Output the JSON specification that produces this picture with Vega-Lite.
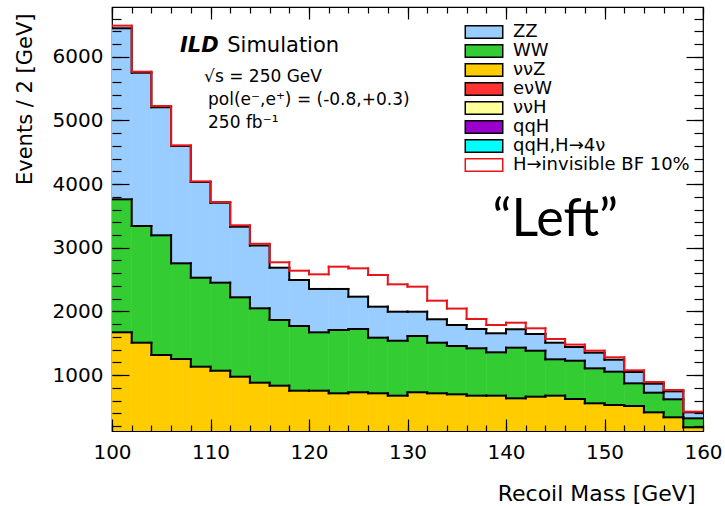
{
  "$schema": "https://vega.github.io/schema/vega-lite/v6.json",
  "width": 591,
  "height": 424,
  "autosize": {"type": "none"},
  "padding": {"left": 112, "top": 7, "right": 22, "bottom": 75},
  "background": "white",
  "config": {
    "view": {"stroke": "black", "strokeWidth": 1.2},
    "axis": {"zindex": 2, "ticks": true, "grid": false, "domain": false, "tickColor": "black", "tickOpacity": 1, "tickWidth": 1.2, "labelColor": "black", "titleColor": "black", "labelFont": "DejaVu Sans", "titleFont": "DejaVu Sans", "labelFontSize": 20, "titleFontWeight": "normal", "labelFlush": false, "labelOverlap": false, "labelBound": false, "format": "d"}
  },
  "datasets": {
    "h": [
      {"lo":100,"hi":102,"proc":"ννZ","n":1671},{"lo":100,"hi":102,"proc":"WW","n":2089},{"lo":100,"hi":102,"proc":"ZZ","n":2687},{"lo":100,"hi":102,"proc":"H→invisible BF 10%","n":41},
      {"lo":102,"hi":104,"proc":"ννZ","n":1508},{"lo":102,"hi":104,"proc":"WW","n":1833},{"lo":102,"hi":104,"proc":"ZZ","n":2408},{"lo":102,"hi":104,"proc":"H→invisible BF 10%","n":16},
      {"lo":104,"hi":106,"proc":"ννZ","n":1315},{"lo":104,"hi":106,"proc":"WW","n":1880},{"lo":104,"hi":106,"proc":"ZZ","n":2011},{"lo":104,"hi":106,"proc":"H→invisible BF 10%","n":20},
      {"lo":106,"hi":108,"proc":"ννZ","n":1252},{"lo":106,"hi":108,"proc":"WW","n":1503},{"lo":106,"hi":108,"proc":"ZZ","n":1843},{"lo":106,"hi":108,"proc":"H→invisible BF 10%","n":10},
      {"lo":108,"hi":110,"proc":"ννZ","n":1131},{"lo":108,"hi":110,"proc":"WW","n":1398},{"lo":108,"hi":110,"proc":"ZZ","n":1503},{"lo":108,"hi":110,"proc":"H→invisible BF 10%","n":10},
      {"lo":110,"hi":112,"proc":"ννZ","n":1068},{"lo":110,"hi":112,"proc":"WW","n":1383},{"lo":110,"hi":112,"proc":"ZZ","n":1256},{"lo":110,"hi":112,"proc":"H→invisible BF 10%","n":11},
      {"lo":112,"hi":114,"proc":"ννZ","n":974},{"lo":112,"hi":114,"proc":"WW","n":1247},{"lo":112,"hi":114,"proc":"ZZ","n":1109},{"lo":112,"hi":114,"proc":"H→invisible BF 10%","n":22},
      {"lo":114,"hi":116,"proc":"ννZ","n":880},{"lo":114,"hi":116,"proc":"WW","n":1168},{"lo":114,"hi":116,"proc":"ZZ","n":987},{"lo":114,"hi":116,"proc":"H→invisible BF 10%","n":27},
      {"lo":116,"hi":118,"proc":"ννZ","n":833},{"lo":116,"hi":118,"proc":"WW","n":1032},{"lo":116,"hi":118,"proc":"ZZ","n":821},{"lo":116,"hi":118,"proc":"H→invisible BF 10%","n":85},
      {"lo":118,"hi":120,"proc":"ννZ","n":754},{"lo":118,"hi":120,"proc":"WW","n":1016},{"lo":118,"hi":120,"proc":"ZZ","n":723},{"lo":118,"hi":120,"proc":"H→invisible BF 10%","n":146},
      {"lo":120,"hi":122,"proc":"ννZ","n":754},{"lo":120,"hi":122,"proc":"WW","n":917},{"lo":120,"hi":122,"proc":"ZZ","n":681},{"lo":120,"hi":122,"proc":"H→invisible BF 10%","n":230},
      {"lo":122,"hi":124,"proc":"ννZ","n":713},{"lo":122,"hi":124,"proc":"WW","n":994},{"lo":122,"hi":124,"proc":"ZZ","n":645},{"lo":122,"hi":124,"proc":"H→invisible BF 10%","n":350},
      {"lo":124,"hi":126,"proc":"ννZ","n":729},{"lo":124,"hi":126,"proc":"WW","n":994},{"lo":124,"hi":126,"proc":"ZZ","n":508},{"lo":124,"hi":126,"proc":"H→invisible BF 10%","n":445},
      {"lo":126,"hi":128,"proc":"ννZ","n":713},{"lo":126,"hi":128,"proc":"WW","n":874},{"lo":126,"hi":128,"proc":"ZZ","n":487},{"lo":126,"hi":128,"proc":"H→invisible BF 10%","n":497},
      {"lo":128,"hi":130,"proc":"ννZ","n":676},{"lo":128,"hi":130,"proc":"WW","n":863},{"lo":128,"hi":130,"proc":"ZZ","n":456},{"lo":128,"hi":130,"proc":"H→invisible BF 10%","n":430},
      {"lo":130,"hi":132,"proc":"ννZ","n":729},{"lo":130,"hi":132,"proc":"WW","n":884},{"lo":130,"hi":132,"proc":"ZZ","n":382},{"lo":130,"hi":132,"proc":"H→invisible BF 10%","n":393},
      {"lo":132,"hi":134,"proc":"ννZ","n":713},{"lo":132,"hi":134,"proc":"WW","n":795},{"lo":132,"hi":134,"proc":"ZZ","n":368},{"lo":132,"hi":134,"proc":"H→invisible BF 10%","n":292},
      {"lo":134,"hi":136,"proc":"ννZ","n":697},{"lo":134,"hi":136,"proc":"WW","n":759},{"lo":134,"hi":136,"proc":"ZZ","n":330},{"lo":134,"hi":136,"proc":"H→invisible BF 10%","n":258},
      {"lo":136,"hi":138,"proc":"ννZ","n":676},{"lo":136,"hi":138,"proc":"WW","n":744},{"lo":136,"hi":138,"proc":"ZZ","n":303},{"lo":136,"hi":138,"proc":"H→invisible BF 10%","n":157},
      {"lo":138,"hi":140,"proc":"ννZ","n":676},{"lo":138,"hi":140,"proc":"WW","n":681},{"lo":138,"hi":140,"proc":"ZZ","n":299},{"lo":138,"hi":140,"proc":"H→invisible BF 10%","n":130},
      {"lo":140,"hi":142,"proc":"ννZ","n":634},{"lo":140,"hi":142,"proc":"WW","n":796},{"lo":140,"hi":142,"proc":"ZZ","n":289},{"lo":140,"hi":142,"proc":"H→invisible BF 10%","n":103},
      {"lo":142,"hi":144,"proc":"ννZ","n":660},{"lo":142,"hi":144,"proc":"WW","n":722},{"lo":142,"hi":144,"proc":"ZZ","n":263},{"lo":142,"hi":144,"proc":"H→invisible BF 10%","n":89},
      {"lo":144,"hi":146,"proc":"ννZ","n":676},{"lo":144,"hi":146,"proc":"WW","n":571},{"lo":144,"hi":146,"proc":"ZZ","n":261},{"lo":144,"hi":146,"proc":"H→invisible BF 10%","n":58},
      {"lo":146,"hi":148,"proc":"ννZ","n":624},{"lo":146,"hi":148,"proc":"WW","n":601},{"lo":146,"hi":148,"proc":"ZZ","n":215},{"lo":146,"hi":148,"proc":"H→invisible BF 10%","n":38},
      {"lo":148,"hi":150,"proc":"ννZ","n":556},{"lo":148,"hi":150,"proc":"WW","n":549},{"lo":148,"hi":150,"proc":"ZZ","n":246},{"lo":148,"hi":150,"proc":"H→invisible BF 10%","n":32},
      {"lo":150,"hi":152,"proc":"ννZ","n":529},{"lo":150,"hi":152,"proc":"WW","n":524},{"lo":150,"hi":152,"proc":"ZZ","n":188},{"lo":150,"hi":152,"proc":"H→invisible BF 10%","n":38},
      {"lo":152,"hi":154,"proc":"ννZ","n":514},{"lo":152,"hi":154,"proc":"WW","n":356},{"lo":152,"hi":154,"proc":"ZZ","n":178},{"lo":152,"hi":154,"proc":"H→invisible BF 10%","n":26},
      {"lo":154,"hi":156,"proc":"ννZ","n":414},{"lo":154,"hi":156,"proc":"WW","n":309},{"lo":154,"hi":156,"proc":"ZZ","n":141},{"lo":154,"hi":156,"proc":"H→invisible BF 10%","n":27},
      {"lo":156,"hi":158,"proc":"ννZ","n":336},{"lo":156,"hi":158,"proc":"WW","n":283},{"lo":156,"hi":158,"proc":"ZZ","n":125},{"lo":156,"hi":158,"proc":"H→invisible BF 10%","n":21},
      {"lo":158,"hi":160,"proc":"ννZ","n":179},{"lo":158,"hi":160,"proc":"WW","n":141},{"lo":158,"hi":160,"proc":"ZZ","n":95},{"lo":158,"hi":160,"proc":"H→invisible BF 10%","n":10}
    ]
  },
  "resolve": {"axis": {"x": "independent", "y": "independent"}},
  "layer": [
    {
      "data": {"name": "h"},
      "transform": [
        {"filter": "datum.proc !== 'H→invisible BF 10%'"},
        {"calculate": "indexof(['ννZ','WW','ZZ'], datum.proc)", "as": "k"},
        {"stack": "n", "groupby": ["lo"], "sort": [{"field": "k", "order": "ascending"}], "as": ["y0", "y1"]}
      ],
      "mark": {"type": "rect", "clip": true, "strokeWidth": 0.6},
      "encoding": {
        "x": {"field": "lo", "type": "quantitative", "scale": {"domain": [100, 160], "nice": false, "zero": false},
              "axis": {"orient": "bottom", "zindex": 2, "values": [100,110,120,130,140,150,160], "tickSize": -12, "labelPadding": 23, "title": "Recoil Mass [GeV]", "titleFontSize": 22, "titleAlign": "right", "titleBaseline": "middle", "titleX": 583, "titleY": 62}},
        "x2": {"field": "hi"},
        "y": {"field": "y0", "type": "quantitative", "scale": {"domain": [121, 6781], "nice": false, "zero": false},
              "axis": {"orient": "left", "zindex": 2, "values": [1000,2000,3000,4000,5000,6000], "tickSize": -17, "labelPadding": 26, "title": "Events / 2 [GeV]", "titleFontSize": 21, "titleAlign": "right", "titleBaseline": "middle", "titleX": -87, "titleY": 6}},
        "y2": {"field": "y1"},
        "color": {"field": "proc", "type": "nominal",
                  "scale": {"domain": ["ZZ","WW","ννZ","eνW","ννH","qqH","qqH,H→4ν","H→invisible BF 10%"],
                            "range": ["#99ccff","#33cc33","#ffcc00","#ff3333","#ffff99","#9900cc","#00ffff","#ffffff"]},
                  "legend": {"orient": "none", "legendX": 363, "legendY": 16, "title": null, "padding": 0,
                             "symbolType": "M-3,-1H3V1H-3Z", "symbolSize": 156, "symbolStrokeWidth": 1.5, "symbolStrokeColor": "black", "symbolOpacity": 1,
                             "labelFont": "DejaVu Sans", "labelFontSize": 18, "labelColor": "black", "labelOffset": 20, "labelLimit": 400, "rowPadding": -3,
                             "encode": {"symbols": {"update": {"stroke": {"signal": "datum.value === 'H→invisible BF 10%' ? '#e8141c' : 'black'"}}}}}},
        "stroke": {"field": "proc", "type": "nominal", "legend": null,
                   "scale": {"domain": ["ZZ","WW","ννZ"], "range": ["#99ccff","#33cc33","#ffcc00"]}}
      }
    },
    {
      "data": {"name": "h"},
      "transform": [
        {"calculate": "indexof(['ννZ','WW','ZZ','H→invisible BF 10%'], datum.proc)", "as": "k"},
        {"window": [{"op": "sum", "field": "n", "as": "top"}], "groupby": ["lo"], "sort": [{"field": "k", "order": "ascending"}], "frame": [null, 0]},
        {"filter": "datum.k < 3"}
      ],
      "mark": {"type": "rule", "color": "black", "strokeWidth": 2, "strokeCap": "square", "clip": true},
      "encoding": {
        "x": {"field": "lo", "type": "quantitative", "scale": {"domain": [100, 160], "nice": false, "zero": false},
              "axis": {"orient": "bottom", "zindex": 2, "values": [100,102,104,106,108,110,112,114,116,118,120,122,124,126,128,130,132,134,136,138,140,142,144,146,148,150,152,154,156,158,160], "tickSize": -6, "labels": false, "title": null}},
        "x2": {"field": "hi"},
        "y": {"field": "top", "type": "quantitative", "scale": {"domain": [121, 6781], "nice": false, "zero": false},
              "axis": {"orient": "left", "zindex": 2, "values": [200,400,600,800,1000,1200,1400,1600,1800,2000,2200,2400,2600,2800,3000,3200,3400,3600,3800,4000,4200,4400,4600,4800,5000,5200,5400,5600,5800,6000,6200,6400,6600], "tickSize": -9, "labels": false, "title": null}}
      }
    },
    {
      "data": {"name": "h"},
      "transform": [
        {"calculate": "indexof(['ννZ','WW','ZZ','H→invisible BF 10%'], datum.proc)", "as": "k"},
        {"window": [{"op": "sum", "field": "n", "as": "top"}], "groupby": ["lo"], "sort": [{"field": "k", "order": "ascending"}], "frame": [null, 0]},
        {"window": [{"op": "lead", "field": "top", "as": "nextTop"}], "groupby": ["proc"], "sort": [{"field": "lo", "order": "ascending"}]},
        {"filter": "datum.k < 3 && datum.nextTop != null"}
      ],
      "mark": {"type": "rule", "color": "black", "strokeWidth": 2, "strokeCap": "square", "clip": true},
      "encoding": {
        "x": {"field": "hi", "type": "quantitative", "scale": {"domain": [100, 160], "nice": false, "zero": false},
              "axis": {"orient": "top", "zindex": 2, "values": [100,110,120,130,140,150,160], "tickSize": -12, "labels": false, "title": null}},
        "y": {"field": "top", "type": "quantitative", "scale": {"domain": [121, 6781], "nice": false, "zero": false},
              "axis": {"orient": "right", "zindex": 2, "values": [1000,2000,3000,4000,5000,6000], "tickSize": -17, "labels": false, "title": null}},
        "y2": {"field": "nextTop"}
      }
    },
    {
      "data": {"name": "h"},
      "transform": [
        {"calculate": "indexof(['ννZ','WW','ZZ','H→invisible BF 10%'], datum.proc)", "as": "k"},
        {"window": [{"op": "sum", "field": "n", "as": "top"}], "groupby": ["lo"], "sort": [{"field": "k", "order": "ascending"}], "frame": [null, 0]},
        {"filter": "datum.k === 3"}
      ],
      "mark": {"type": "rule", "color": "#e8141c", "strokeWidth": 2, "strokeCap": "square", "clip": true},
      "encoding": {
        "x": {"field": "lo", "type": "quantitative", "scale": {"domain": [100, 160], "nice": false, "zero": false},
              "axis": {"orient": "top", "zindex": 2, "values": [100,102,104,106,108,110,112,114,116,118,120,122,124,126,128,130,132,134,136,138,140,142,144,146,148,150,152,154,156,158,160], "tickSize": -6, "labels": false, "title": null}},
        "x2": {"field": "hi"},
        "y": {"field": "top", "type": "quantitative", "scale": {"domain": [121, 6781], "nice": false, "zero": false},
              "axis": {"orient": "right", "zindex": 2, "values": [200,400,600,800,1000,1200,1400,1600,1800,2000,2200,2400,2600,2800,3000,3200,3400,3600,3800,4000,4200,4400,4600,4800,5000,5200,5400,5600,5800,6000,6200,6400,6600], "tickSize": -9, "labels": false, "title": null}}
      }
    },
    {
      "data": {"name": "h"},
      "transform": [
        {"calculate": "indexof(['ννZ','WW','ZZ','H→invisible BF 10%'], datum.proc)", "as": "k"},
        {"window": [{"op": "sum", "field": "n", "as": "top"}], "groupby": ["lo"], "sort": [{"field": "k", "order": "ascending"}], "frame": [null, 0]},
        {"window": [{"op": "lead", "field": "top", "as": "nextTop"}], "groupby": ["proc"], "sort": [{"field": "lo", "order": "ascending"}]},
        {"filter": "datum.k === 3 && datum.nextTop != null"}
      ],
      "mark": {"type": "rule", "color": "#e8141c", "strokeWidth": 2, "strokeCap": "square", "clip": true},
      "encoding": {
        "x": {"field": "hi", "type": "quantitative", "scale": {"domain": [100, 160], "nice": false, "zero": false}, "axis": null},
        "y": {"field": "top", "type": "quantitative", "scale": {"domain": [121, 6781], "nice": false, "zero": false}, "axis": null},
        "y2": {"field": "nextTop"}
      }
    },
    {
      "data": {"values": [{}]},
      "mark": {"type": "text", "font": "DejaVu Sans", "fontSize": 21, "fontWeight": "bold", "fontStyle": "italic", "align": "left", "baseline": "alphabetic", "color": "black"},
      "encoding": {
        "x": {"datum": 106.9, "type": "quantitative", "axis": null},
        "y": {"datum": 6070, "type": "quantitative", "axis": null},
        "text": {"value": "ILD"}
      }
    },
    {
      "data": {"values": [{}]},
      "mark": {"type": "text", "font": "DejaVu Sans", "fontSize": 21, "align": "left", "baseline": "alphabetic", "color": "black"},
      "encoding": {
        "x": {"datum": 111.7, "type": "quantitative", "axis": null},
        "y": {"datum": 6070, "type": "quantitative", "axis": null},
        "text": {"value": "Simulation"}
      }
    },
    {
      "data": {"values": [{}]},
      "mark": {"type": "text", "font": "DejaVu Sans", "fontSize": 17, "align": "left", "baseline": "alphabetic", "color": "black"},
      "encoding": {
        "x": {"datum": 109.35, "type": "quantitative", "axis": null},
        "y": {"datum": 5608, "type": "quantitative", "axis": null},
        "text": {"value": "√s = 250 GeV"}
      }
    },
    {
      "data": {"values": [{}]},
      "mark": {"type": "text", "font": "DejaVu Sans", "fontSize": 17, "align": "left", "baseline": "alphabetic", "color": "black"},
      "encoding": {
        "x": {"datum": 109.75, "type": "quantitative", "axis": null},
        "y": {"datum": 5242, "type": "quantitative", "axis": null},
        "text": {"value": "pol(e⁻,e⁺) = (-0.8,+0.3)"}
      }
    },
    {
      "data": {"values": [{}]},
      "mark": {"type": "text", "font": "DejaVu Sans", "fontSize": 17, "align": "left", "baseline": "alphabetic", "color": "black"},
      "encoding": {
        "x": {"datum": 109.75, "type": "quantitative", "axis": null},
        "y": {"datum": 4876, "type": "quantitative", "axis": null},
        "text": {"value": "250 fb⁻¹"}
      }
    },
    {
      "data": {"values": [{}]},
      "mark": {"type": "text", "font": "Lato", "fontSize": 52, "align": "center", "baseline": "alphabetic", "color": "black"},
      "encoding": {
        "x": {"datum": 145.0, "type": "quantitative", "axis": null},
        "y": {"datum": 3184, "type": "quantitative", "axis": null},
        "text": {"value": "“Left”"}
      }
    }
  ]
}
